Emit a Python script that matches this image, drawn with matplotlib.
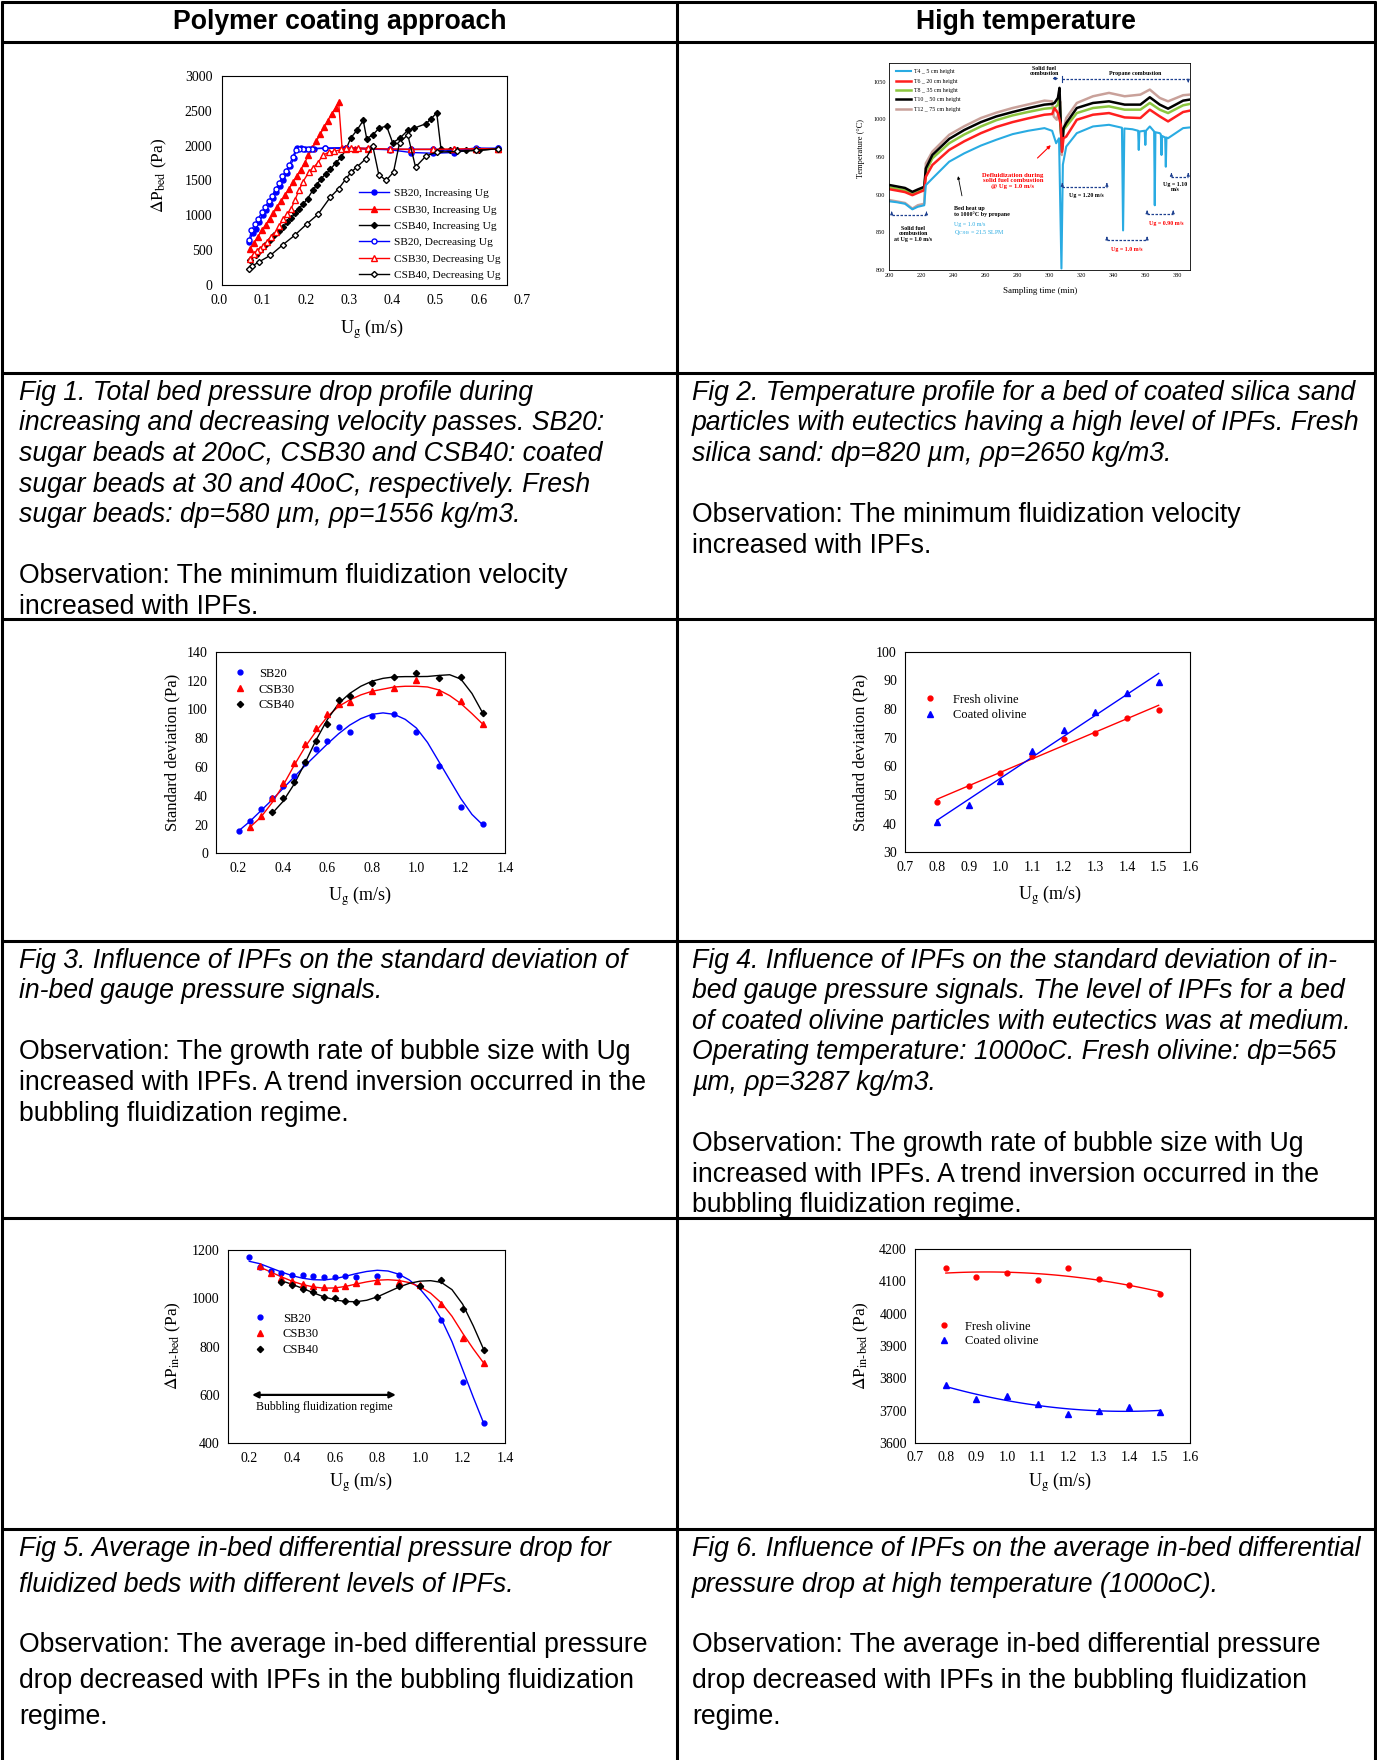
import numpy as np
import matplotlib
matplotlib.use('Agg')
import matplotlib.pyplot as plt

plt.rcParams['font.family'] = ['Liberation Serif', 'DejaVu Serif']
plt.rcParams['mathtext.fontset'] = 'stix'

# ---------------- data ----------------
# Fig 1: total bed pressure drop
f1_sb20_inc_x = [0.075, 0.083, 0.09, 0.098, 0.106, 0.114, 0.122, 0.13, 0.138, 0.146, 0.154, 0.162, 0.17, 0.178,
                 0.186, 0.195, 0.205, 0.215, 0.225, 0.25, 0.3, 0.35, 0.4, 0.45, 0.5, 0.55, 0.6, 0.65]
f1_sb20_inc_y = [620, 740, 800, 900, 1000, 1080, 1160, 1250, 1330, 1420, 1500, 1600, 1700, 1820,
                 1970, 1960, 1950, 1950, 1955, 1960, 1960, 1950, 1940, 1900, 1890, 1900, 1950, 1960]
f1_csb30_inc_x = [0.077, 0.086, 0.095, 0.104, 0.113, 0.122, 0.131, 0.14, 0.149, 0.158, 0.167, 0.176, 0.185, 0.194,
                  0.203, 0.212, 0.221, 0.23, 0.239, 0.248, 0.257, 0.266, 0.275, 0.282, 0.29, 0.3, 0.32, 0.35,
                  0.4, 0.45, 0.5, 0.55, 0.6, 0.65]
f1_csb30_inc_y = [520, 600, 690, 780, 860, 950, 1030, 1120, 1200, 1290, 1380, 1470, 1560, 1650,
                  1750, 1860, 1960, 2060, 2160, 2260, 2360, 2460, 2540, 2620, 1960, 1955, 1955, 1950,
                  1945, 1945, 1945, 1945, 1950, 1955]
f1_csb40_inc_x = [0.077, 0.09, 0.1, 0.112, 0.122, 0.133, 0.143, 0.153, 0.163, 0.172, 0.181, 0.19, 0.2, 0.21,
                  0.222, 0.232, 0.241, 0.252, 0.263, 0.275, 0.288, 0.3, 0.31, 0.324, 0.339, 0.347, 0.361,
                  0.376, 0.393, 0.407, 0.424, 0.442, 0.457, 0.484, 0.496, 0.509, 0.519, 0.54, 0.557, 0.577,
                  0.608, 0.65]
f1_csb40_inc_y = [350, 420, 500, 575, 640, 709, 770, 829, 900, 958, 1030, 1092, 1160, 1236,
                  1356, 1440, 1523, 1590, 1657, 1750, 1835, 1960, 2108, 2218, 2361, 2098, 2155,
                  2251, 2280, 2041, 2108, 2218, 2251, 2314, 2385, 2472, 1945, 1930, 1930, 1930,
                  1930, 1955]
f1_sb20_dec_x = [0.65, 0.6, 0.55, 0.5, 0.45, 0.4, 0.3, 0.25, 0.22, 0.21, 0.2, 0.19, 0.183, 0.176, 0.168,
                 0.16, 0.152, 0.144, 0.136, 0.128, 0.12, 0.112, 0.104, 0.096, 0.088, 0.08, 0.075]
f1_sb20_dec_y = [1960, 1965, 1930, 1945, 1945, 1945, 1970, 1965, 1955, 1950, 1950, 1950, 1940, 1840, 1720,
                 1640, 1560, 1460, 1370, 1280, 1200, 1120, 1040, 950, 870, 780, 640]
f1_csb30_dec_x = [0.65, 0.6, 0.55, 0.5, 0.45, 0.4, 0.35, 0.326, 0.311, 0.298, 0.288, 0.272, 0.259, 0.245,
                  0.234, 0.222, 0.213, 0.199, 0.19, 0.181, 0.172, 0.163, 0.154, 0.145, 0.136, 0.126, 0.116,
                  0.108, 0.099, 0.092, 0.085, 0.077]
f1_csb30_dec_y = [1955, 1955, 1950, 1945, 1945, 1950, 1960, 1965, 1965, 1960, 1945, 1916, 1906, 1858,
                  1753, 1676, 1619, 1475, 1356, 1220, 1092, 1020, 948, 850, 757, 690, 613,
                  560, 517, 480, 445, 374]
f1_csb40_dec_x = [0.65, 0.6, 0.557, 0.509, 0.484, 0.46, 0.442, 0.423, 0.409, 0.392, 0.375, 0.361, 0.345,
                  0.324, 0.311, 0.298, 0.282, 0.263, 0.234, 0.209, 0.18, 0.153, 0.124, 0.097, 0.082, 0.075]
f1_csb40_dec_y = [1955, 1930, 1916, 1906, 1849, 1691, 2155, 2041, 1619, 1499, 1581, 1993, 1811,
                  1691, 1619, 1514, 1380, 1260, 1010, 877, 709, 575, 422, 326, 268, 230]

# Fig 2: temperature profile
f2_t12_t = [200, 205, 210, 214.6, 218, 222, 223, 227.1, 237.6, 247, 257.4, 267, 277.2, 287, 297.1, 301.9,
            302.9, 304.8, 306.1, 306.9, 307.9, 309, 310.7, 317.3, 327.4, 337.4, 347.2, 357, 362.9, 369.1,
            374.3, 383.7, 387.9]
f2_t12_v = [893, 891, 889, 881.5, 886, 888, 941.7, 957.3, 979.6, 991, 1001.9, 1009, 1015.2, 1020, 1025, 1024.1,
            1004, 999.6, 1010.8, 1024, 952.8, 985, 1001.9, 1021.9, 1030.8, 1035.3, 1030.8, 1033, 1039.7, 1028.6,
            1024.1, 1032.2, 1033]
f2_t = [200, 205, 210, 214.6, 218, 222, 223, 227.1, 237.6, 247, 257.4, 267, 277.2, 287, 297.1, 301.9, 303.4,
        305.5, 306.5, 307.3, 308, 309, 310.7, 317.3, 327.4, 337.4, 347.2, 357, 362.9, 369.1, 374.3, 383.7, 387.9]
f2_t10_v = [913, 911, 909, 903.8, 907, 910.5, 935, 952.8, 974.2, 986, 996.5, 1004, 1009.9, 1015, 1019.7, 1020.6,
            1022, 1028.6, 1042, 993, 959.5, 988.5, 995.2, 1015.2, 1021.9, 1024.1, 1019.7, 1019.7, 1029.5,
            1019.7, 1014.3, 1025, 1026.4]
f2_t8_v = [910, 908, 906, 901, 904, 908, 930.6, 948.4, 968.4, 980, 990.7, 999, 1005.4, 1010, 1014.3, 1015.2,
           1015.2, 1019.7, 1033, 985, 970.7, 986.3, 990.7, 1008.5, 1015.2, 1017.4, 1013, 1013, 1021.9, 1013,
           1008.5, 1018.8, 1020.6]
f2_t6_v = [907.4, 905.5, 903.5, 899.4, 902.5, 906, 923.9, 939.5, 959.5, 971, 981.8, 990, 996.5, 1001.5, 1006.3,
           1007.2, 1015, 1008.5, 1000, 993, 957, 975, 977.3, 999.6, 1006.3, 1008.5, 1002.7, 1001.9, 1013, 1004.1,
           997.4, 1009.9, 1011.7]
f2_t4_t = [200, 205, 210, 214.6, 218, 222, 223, 227.1, 237.6, 247, 257.4, 267, 277.2, 287, 297.1, 301.9, 304.4,
           306.2, 307.7, 308.6, 310.7, 317.3, 327.4, 337.4, 345.5, 346.2, 347, 352, 355.6, 356, 356.4, 359.7,
           360.1, 360.5, 362.9, 365.6, 366, 366.4, 369.1, 369.8, 370.2, 370.6, 372.5, 372.9, 373.3, 374.3,
           383.7, 387.9]
f2_t4_v = [891.3, 890, 888, 880.6, 884, 886, 912.7, 921.6, 943.9, 955, 965.3, 973, 980.5, 985, 988.5, 984.9,
           968.4, 975, 802, 940, 964, 981.8, 990.7, 992.9, 989, 852.6, 988, 987, 985, 959.5, 984, 985,
           966.2, 985, 990.7, 984, 886, 983, 981.8, 980, 952.8, 978, 976, 937.2, 976, 975.1,
           988.5, 989.4]

# Fig 3: standard deviation vs Ug
f3_sb20_x = [0.2, 0.25, 0.3, 0.35, 0.4, 0.45, 0.5, 0.55, 0.6, 0.65, 0.7, 0.8, 0.9, 1.0, 1.1, 1.2, 1.3]
f3_sb20_y = [15.7, 22.4, 30.6, 38.4, 47, 54, 62.5, 72.2, 78.2, 87.5, 84, 95.6, 96.8, 84.3, 60.6, 31.9, 20.1]
f3_csb30_x = [0.25, 0.3, 0.35, 0.4, 0.45, 0.5, 0.55, 0.6, 0.65, 0.7, 0.8, 0.9, 1.0, 1.1, 1.2, 1.3]
f3_csb30_y = [18.5, 26.2, 38.2, 49, 63, 75.9, 86.8, 96.8, 104, 105.3, 113, 114.6, 120.4, 111.8, 105.8, 89.6]
f3_csb40_x = [0.35, 0.4, 0.45, 0.5, 0.55, 0.6, 0.65, 0.7, 0.8, 0.9, 1.0, 1.1, 1.2, 1.3]
f3_csb40_y = [28.5, 38.4, 49.3, 63.7, 77.8, 90, 106.5, 109.5, 118.5, 122.7, 125, 121.5, 122.2, 97.2]
# fitted curves
f3_fit_sb20_x = [0.2, 0.25, 0.3, 0.35, 0.4, 0.45, 0.5, 0.55, 0.6, 0.65, 0.7, 0.75, 0.8, 0.85, 0.9, 0.95, 1.0,
                 1.05, 1.1, 1.15, 1.2, 1.25, 1.3]
f3_fit_sb20_y = [15.5, 22, 29.5, 37, 45, 53, 61, 68.5, 76, 83, 89, 93.5, 96.5, 97.5, 96.5, 93, 87,
                 77, 64, 51, 38, 27, 19.5]
f3_fit_csb30_x = f3_fit_sb20_x[1:]
f3_fit_csb30_y = [18, 25, 35, 47, 61, 74, 85, 95, 102, 106.5, 110, 112.5, 114, 115.5, 116, 116, 115.5, 113.5,
                  109.5, 104, 97, 89.5]
f3_fit_csb40_x = f3_fit_sb20_x[3:]
f3_fit_csb40_y = [27.5, 36, 48, 63, 79, 93, 104, 111, 116, 119.5, 121.5, 122.5, 122.7, 122.7, 122.8, 123.5,
                  124, 121, 111, 97]

# Fig 4: standard deviation, olivine
f4_x = [0.8, 0.9, 1.0, 1.1, 1.2, 1.3, 1.4, 1.5]
f4_fresh = [47.5, 53, 57.5, 63.5, 69.5, 71.7, 77, 79.6]
f4_coated = [40.7, 46.5, 55, 65.5, 72.7, 79, 85.5, 89.4]

# Fig 5: in-bed pressure drop, sugar beads
f5_sb20_x = [0.2, 0.25, 0.3, 0.35, 0.4, 0.45, 0.5, 0.55, 0.6, 0.65, 0.7, 0.8, 0.9, 1.1, 1.2, 1.3]
f5_sb20_y = [1171, 1130, 1110, 1102, 1094, 1097, 1091, 1086, 1086, 1090, 1088, 1090, 1095, 909, 652, 483]
f5_csb30_x = [0.25, 0.3, 0.35, 0.4, 0.45, 0.5, 0.55, 0.6, 0.65, 0.7, 0.8, 0.9, 1.0, 1.1, 1.2, 1.3]
f5_csb30_y = [1133, 1102, 1082, 1071, 1058, 1049, 1047, 1042, 1051, 1061, 1072, 1068, 1055, 976, 835, 730]
f5_csb40_x = [0.35, 0.4, 0.45, 0.5, 0.55, 0.6, 0.65, 0.7, 0.8, 0.9, 1.0, 1.1, 1.2, 1.3]
f5_csb40_y = [1068, 1055, 1038, 1024, 1006, 999, 989, 982, 1003, 1049, 1049, 1076, 955, 786]
f5_fit_sb20_y = [1152, 1142, 1125, 1108, 1093, 1082, 1076, 1075, 1080, 1090, 1101, 1110, 1115, 1112, 1099,
                 1075, 1038, 985, 914, 820, 705, 590, 480]
f5_fit_csb30_y = [1128, 1108, 1088, 1070, 1056, 1046, 1041, 1042, 1048, 1058, 1067, 1074, 1076, 1073, 1064,
                  1047, 1020, 980, 925, 855, 790, 730]
f5_fit_csb40_y = [1072, 1057, 1040, 1022, 1005, 993, 986, 985, 991, 1005, 1025, 1045, 1061, 1070, 1072, 1065,
                  1035, 975, 885, 785]

# Fig 6: in-bed pressure drop, olivine
f6_x = [0.8, 0.9, 1.0, 1.1, 1.2, 1.3, 1.4, 1.5]
f6_fresh = [4140, 4113, 4125, 4105, 4140, 4108, 4090, 4060]
f6_coated = [3780, 3735, 3745, 3722, 3690, 3700, 3710, 3695]

# ---------------- table ----------------
W, H = 1377, 1760
fig = plt.figure(figsize=(W / 100, H / 100), dpi=100)
bg = fig.add_axes([0, 0, 1, 1])
bg.set_xlim(0, W)
bg.set_ylim(H, 0)
bg.axis('off')

bg.hlines([2.5, 41.7, 372.7, 619, 940.7, 1218, 1529], 1, 1376, color='k', lw=2.2)
bg.vlines([2, 677, 1375], 1.5, H, color='k', lw=2.2)

SANS = ['Liberation Sans', 'DejaVu Sans']
FS = 19.2
bg.text(340, 22, 'Polymer coating approach', family=SANS, fontsize=FS, weight='bold', ha='center', va='center')
bg.text(1026, 22, 'High temperature', family=SANS, fontsize=FS, weight='bold', ha='center', va='center')

# (x, first line y, line step, gap before observation, italic lines, observation lines)
captions = [
    (19, 392.7, 30.6, 61.2, ['Fig 1. Total bed pressure drop profile during',
                             'increasing and decreasing velocity passes. SB20:',
                             'sugar beads at 20oC, CSB30 and CSB40: coated',
                             'sugar beads at 30 and 40oC, respectively. Fresh',
                             'sugar beads: dp=580 µm, ρp=1556 kg/m3.'],
     ['Observation: The minimum fluidization velocity', 'increased with IPFs.']),
    (692, 392.7, 30.6, 61.2, ['Fig 2. Temperature profile for a bed of coated silica sand',
                              'particles with eutectics having a high level of IPFs. Fresh',
                              'silica sand: dp=820 µm, ρp=2650 kg/m3.'],
     ['Observation: The minimum fluidization velocity', 'increased with IPFs.']),
    (19, 960.6, 30.6, 61.2, ['Fig 3. Influence of IPFs on the standard deviation of',
                             'in-bed gauge pressure signals.'],
     ['Observation: The growth rate of bubble size with Ug',
      'increased with IPFs. A trend inversion occurred in the',
      'bubbling fluidization regime.']),
    (692, 960.6, 30.6, 61.2, ['Fig 4. Influence of IPFs on the standard deviation of in-',
                              'bed gauge pressure signals. The level of IPFs for a bed',
                              'of coated olivine particles with eutectics was at medium.',
                              'Operating temperature: 1000oC. Fresh olivine: dp=565',
                              'µm, ρp=3287 kg/m3.'],
     ['Observation: The growth rate of bubble size with Ug',
      'increased with IPFs. A trend inversion occurred in the',
      'bubbling fluidization regime.']),
    (19, 1548.8, 35.9, 60.6, ['Fig 5. Average in-bed differential pressure drop for',
                              'fluidized beds with different levels of IPFs.'],
     ['Observation: The average in-bed differential pressure',
      'drop decreased with IPFs in the bubbling fluidization',
      'regime.']),
    (692, 1548.8, 35.9, 60.6, ['Fig 6. Influence of IPFs on the average in-bed differential',
                               'pressure drop at high temperature (1000oC).'],
     ['Observation: The average in-bed differential pressure',
      'drop decreased with IPFs in the bubbling fluidization',
      'regime.']),
]
for x0, y0, dy, gap, ital, obs in captions:
    y = y0
    for i, line in enumerate(ital):
        bg.text(x0, y, line, family=SANS, fontsize=FS, style='italic', va='center')
        if i < len(ital) - 1:
            y += dy
    y += gap
    for line in obs:
        bg.text(x0, y, line, family=SANS, fontsize=FS, va='center')
        y += dy


def add_ax(l, t, r, b):
    ax = fig.add_axes([l / W, 1 - b / H, (r - l) / W, (b - t) / H])
    for s in ax.spines.values():
        s.set_linewidth(0.8)
    ax.tick_params(length=0, labelsize=10, pad=6)
    return ax


def ylab(x, y, s, size=12):
    bg.text(x, y, s, fontsize=size, rotation=90, ha='center', va='center')


def xlab(x, y, s, size=12.5):
    bg.text(x, y, s, fontsize=size, ha='center', va='center')


UG = r'U$_{\mathrm{g}}$ (m/s)'

# ---------------- Fig 1 ----------------
ax1 = add_ax(222, 76, 506.7, 284.7)
ax1.set_xlim(0.012, 0.671)
ax1.set_ylim(0, 3000)
ax1.set_yticks([0, 500, 1000, 1500, 2000, 2500, 3000])
ax1.set_xticks([])
ax1.tick_params(axis='y', pad=7)
for v in [0.0, 0.1, 0.2, 0.3, 0.4, 0.5, 0.6, 0.7]:
    ax1.text(v + 0.006, -0.075, f'{v:.1f}', transform=ax1.get_xaxis_transform(), ha='center', va='center',
             fontsize=10, clip_on=False)
ms = 3.6
ax1.plot(f1_sb20_inc_x, f1_sb20_inc_y, '-o', color='blue', lw=1, ms=ms, label='SB20, Increasing Ug')
ax1.plot(f1_csb30_inc_x, f1_csb30_inc_y, '-^', color='red', lw=1, ms=ms + 0.4, label='CSB30, Increasing Ug')
ax1.plot(f1_csb40_inc_x, f1_csb40_inc_y, '-D', color='black', lw=1, ms=ms - 0.5, label='CSB40, Increasing Ug')
ax1.plot(f1_sb20_dec_x, f1_sb20_dec_y, '-o', color='blue', mfc='white', lw=1, ms=ms, label='SB20, Decreasing Ug')
ax1.plot(f1_csb30_dec_x, f1_csb30_dec_y, '-^', color='red', mfc='white', lw=1, ms=ms + 0.4,
         label='CSB30, Decreasing Ug')
ax1.plot(f1_csb40_dec_x, f1_csb40_dec_y, '-D', color='black', mfc='white', lw=1, ms=ms - 0.5,
         label='CSB40, Decreasing Ug')
ax1.legend(loc='upper left', bbox_to_anchor=(0.481, 0.462), frameon=False, fontsize=8.2, borderpad=0,
           borderaxespad=0, handlelength=2.6, handletextpad=0.5, labelspacing=0.56)
ylab(159, 175, r'$\Delta$P$_{\mathrm{bed}}$ (Pa)', 12.5)
xlab(371.7, 328.7, UG, 13)

# ---------------- Fig 2 ----------------
ax2 = add_ax(889, 63, 1190, 270)
ax2.set_xlim(200, 388)
ax2.set_ylim(800, 1075)
ax2.set_xticks(range(200, 381, 20))
ax2.set_yticks(range(800, 1051, 50))
ax2.tick_params(labelsize=4.5, pad=2.5)
for s in ax2.spines.values():
    s.set_linewidth(0.6)
c_t4, c_t6, c_t8, c_t10, c_t12 = '#29abe2', '#ff1f1f', '#8cc63f', 'black', '#c9a19a'
l12, = ax2.plot(f2_t12_t, f2_t12_v, color=c_t12, lw=1.8)
l8, = ax2.plot(f2_t, f2_t8_v, color=c_t8, lw=1.8)
l10, = ax2.plot(f2_t, f2_t10_v, color=c_t10, lw=1.8)
l6, = ax2.plot(f2_t, f2_t6_v, color=c_t6, lw=1.8)
l4, = ax2.plot(f2_t4_t, f2_t4_v, color=c_t4, lw=1.5)
ax2.legend([l4, l6, l8, l10, l12], ['T4 _ 5 cm height', 'T6 _ 20 cm height', 'T8 _ 35 cm height',
                                    'T10 _ 50 cm height', 'T12 _ 75 cm height'],
           loc='upper left', bbox_to_anchor=(0.015, 0.985), frameon=False, fontsize=4.2, borderpad=0,
           handlelength=2.5, handletextpad=0.5, labelspacing=0.75)
navy = '#1c3f8f'
ann = dict(fontsize=4.3, weight='bold', ha='center', va='center')


def bracket(x0, x1, y):
    ax2.plot([x0, x1], [y, y], ls=(0, (2, 1.2)), color=navy, lw=0.9)
    ax2.annotate('', xy=(x0, y + 5), xytext=(x0, y), arrowprops=dict(arrowstyle='-|>', color=navy, lw=0.7,
                                                                      mutation_scale=4))
    ax2.annotate('', xy=(x1, y + 5), xytext=(x1, y), arrowprops=dict(arrowstyle='-|>', color=navy, lw=0.7,
                                                                      mutation_scale=4))


ax2.text(297, 1064, 'Solid fuel\ncombustion', linespacing=1.0, **ann)
ax2.annotate('', xy=(300.2, 1054.4), xytext=(307.5, 1054.4),
             arrowprops=dict(arrowstyle='<|-|>', color=navy, lw=0.8, ls='--', mutation_scale=4))
ax2.text(353.5, 1061, 'Propane combustion', **ann)
ax2.plot([308.2, 386.9], [1054.4, 1054.4], ls=(0, (2, 1.2)), color=navy, lw=0.9)
ax2.plot([308.2, 308.2], [1050, 1058], color=navy, lw=0.8)
ax2.annotate('', xy=(386.9, 1049), xytext=(386.9, 1054.4),
             arrowprops=dict(arrowstyle='-|>', color=navy, lw=0.7, mutation_scale=4))
bracket(201.7, 223.4, 872.6)
ax2.text(215, 848, 'Solid fuel\ncombustion\nat Ug = 1.0 m/s', linespacing=1.1, **ann)
ax2.text(240.7, 878, 'Bed heat up\nto 1000°C by propane', linespacing=1.1, fontsize=4.3, weight='bold',
         va='center')
ax2.text(240.7, 860.6, 'Ug = 1.0 m/s', fontsize=4.3, color=c_t4, va='center')
ax2.text(240.7, 850.4, r'Q$_{\mathrm{C3H8}}$ = 21.5 SLPM', fontsize=4.3, color=c_t4, va='center')
ax2.annotate('', xy=(242.8, 928.3), xytext=(245.9, 894.9),
             arrowprops=dict(arrowstyle='-|>', color='black', lw=0.6, mutation_scale=4))
ax2.text(277.3, 918.5, 'Defluidization during\nsolid fuel combustion\n@ Ug = 1.0 m/s', color='red',
         linespacing=1.15, fontsize=4.8, weight='bold', ha='center', va='center')
ax2.annotate('', xy=(302.3, 968.4), xytext=(291.5, 946.2),
             arrowprops=dict(arrowstyle='-|>', color='red', lw=0.8, mutation_scale=5))
bracket(308.2, 336.1, 910.5)
ax2.text(323.2, 899.4, 'Ug = 1.20 m/s', **ann)
bracket(336.1, 361.2, 839.2)
ax2.text(348.2, 827.2, 'Ug = 1.0 m/s', color='red', **ann)
bracket(361.2, 377.5, 874)
ax2.text(373.3, 861.5, 'Ug = 0.90 m/s', color='red', **ann)
bracket(376.4, 386.9, 923.9)
ax2.text(379, 910, 'Ug = 1.10\nm/s', linespacing=1.1, **ann)
ylab(861.3, 148, 'Temperature (°C)', 6)
xlab(1039.7, 291.3, 'Sampling time (min)', 6.5)

# ---------------- Fig 3 ----------------
ax3 = add_ax(216.3, 651.7, 505.3, 853.3)
ax3.set_xlim(0.1, 1.4)
ax3.set_ylim(0, 140)
ax3.set_xticks([0.2, 0.4, 0.6, 0.8, 1.0, 1.2, 1.4])
ax3.set_xticklabels(['0.2', '0.4', '0.6', '0.8', '1.0', '1.2', '1.4'])
ax3.set_yticks(range(0, 141, 20))
ax3.plot(f3_fit_sb20_x, f3_fit_sb20_y, color='blue', lw=1)
ax3.plot(f3_fit_csb30_x, f3_fit_csb30_y, color='red', lw=1)
ax3.plot(f3_fit_csb40_x, f3_fit_csb40_y, color='black', lw=1)
ax3.plot(f3_sb20_x, f3_sb20_y, 'o', color='blue', ms=3.5, label='SB20')
ax3.plot(f3_csb30_x, f3_csb30_y, '^', color='red', ms=4, label='CSB30')
ax3.plot(f3_csb40_x, f3_csb40_y, 'D', color='black', ms=3.2, label='CSB40')
ax3.legend(loc='upper left', bbox_to_anchor=(0.06, 0.92), frameon=False, fontsize=9, borderpad=0,
           borderaxespad=0, handlelength=1.0, handletextpad=1.0, labelspacing=0.3, numpoints=1)
ylab(172, 752, 'Standard deviation (Pa)', 12)
xlab(360.3, 896, UG, 13)

# ---------------- Fig 4 ----------------
ax4 = add_ax(905.3, 651.7, 1190.3, 852.3)
ax4.set_xlim(0.7, 1.6)
ax4.set_ylim(30, 100)
ax4.set_xticks([0.7, 0.8, 0.9, 1.0, 1.1, 1.2, 1.3, 1.4, 1.5, 1.6])
ax4.set_xticklabels(['0.7', '0.8', '0.9', '1.0', '1.1', '1.2', '1.3', '1.4', '1.5', '1.6'])
ax4.set_yticks(range(30, 101, 10))
xx = np.linspace(min(f4_x), max(f4_x), 50)
ax4.plot(xx, np.polyval(np.polyfit(f4_x, f4_fresh, 1), xx), color='red', lw=1)
ax4.plot(xx, np.polyval(np.polyfit(f4_x, f4_coated, 1), xx), color='blue', lw=1)
ax4.plot(f4_x, f4_fresh, 'o', color='red', ms=3.5, label='Fresh olivine')
ax4.plot(f4_x, f4_coated, '^', color='blue', ms=4, label='Coated olivine')
ax4.legend(loc='upper left', bbox_to_anchor=(0.066, 0.79), frameon=False, fontsize=9, borderpad=0,
           borderaxespad=0, handlelength=1.0, handletextpad=1.3, labelspacing=0.25, numpoints=1)
ylab(860.3, 752, 'Standard deviation (Pa)', 12)
xlab(1050.3, 895, UG, 13)

# ---------------- Fig 5 ----------------
ax5 = add_ax(228, 1249.7, 505.3, 1443.3)
ax5.set_xlim(0.1, 1.4)
ax5.set_ylim(400, 1200)
ax5.set_xticks([0.2, 0.4, 0.6, 0.8, 1.0, 1.2, 1.4])
ax5.set_xticklabels(['0.2', '0.4', '0.6', '0.8', '1.0', '1.2', '1.4'])
ax5.set_yticks(range(400, 1201, 200))
ax5.plot(f3_fit_sb20_x, f5_fit_sb20_y, color='blue', lw=1)
ax5.plot(f3_fit_csb30_x, f5_fit_csb30_y, color='red', lw=1)
ax5.plot(f3_fit_csb40_x, f5_fit_csb40_y, color='black', lw=1)
ax5.plot(f5_sb20_x, f5_sb20_y, 'o', color='blue', ms=3.5, label='SB20')
ax5.plot(f5_csb30_x, f5_csb30_y, '^', color='red', ms=4, label='CSB30')
ax5.plot(f5_csb40_x, f5_csb40_y, 'D', color='black', ms=3.2, label='CSB40')
ax5.legend(loc='upper left', bbox_to_anchor=(0.094, 0.675), frameon=False, fontsize=9, borderpad=0,
           borderaxespad=0, handlelength=1.0, handletextpad=1.3, labelspacing=0.3, numpoints=1)
ax5.annotate('', xy=(0.2, 600), xytext=(0.9, 600),
             arrowprops=dict(arrowstyle='<|-|>', color='black', lw=1.6, mutation_scale=9))
ax5.text(0.55, 548, 'Bubbling fluidization regime', fontsize=8.5, ha='center', va='center')
ylab(173.7, 1346, r'$\Delta$P$_{\mathrm{in\text{-}bed}}$ (Pa)', 12.5)
xlab(361, 1482.3, UG, 13)

# ---------------- Fig 6 ----------------
ax6 = add_ax(915.3, 1249, 1190.3, 1443)
ax6.set_xlim(0.7, 1.6)
ax6.set_ylim(3600, 4200)
ax6.set_xticks([0.7, 0.8, 0.9, 1.0, 1.1, 1.2, 1.3, 1.4, 1.5, 1.6])
ax6.set_xticklabels(['0.7', '0.8', '0.9', '1.0', '1.1', '1.2', '1.3', '1.4', '1.5', '1.6'])
ax6.set_yticks(range(3600, 4201, 100))
ax6.plot(xx, np.polyval(np.polyfit(f6_x, f6_fresh, 2), xx), color='red', lw=1)
ax6.plot(xx, np.polyval(np.polyfit(f6_x, f6_coated, 2), xx), color='blue', lw=1)
ax6.plot(f6_x, f6_fresh, 'o', color='red', ms=3.5, label='Fresh olivine')
ax6.plot(f6_x, f6_coated, '^', color='blue', ms=4, label='Coated olivine')
ax6.legend(loc='upper left', bbox_to_anchor=(0.082, 0.63), frameon=False, fontsize=9, borderpad=0,
           borderaxespad=0, handlelength=1.0, handletextpad=1.2, labelspacing=0.2, numpoints=1)
ylab(861, 1346, r'$\Delta$P$_{\mathrm{in\text{-}bed}}$ (Pa)', 12.5)
xlab(1060.3, 1482.3, UG, 13)

fig.savefig('out.png', dpi=100, facecolor='white')
